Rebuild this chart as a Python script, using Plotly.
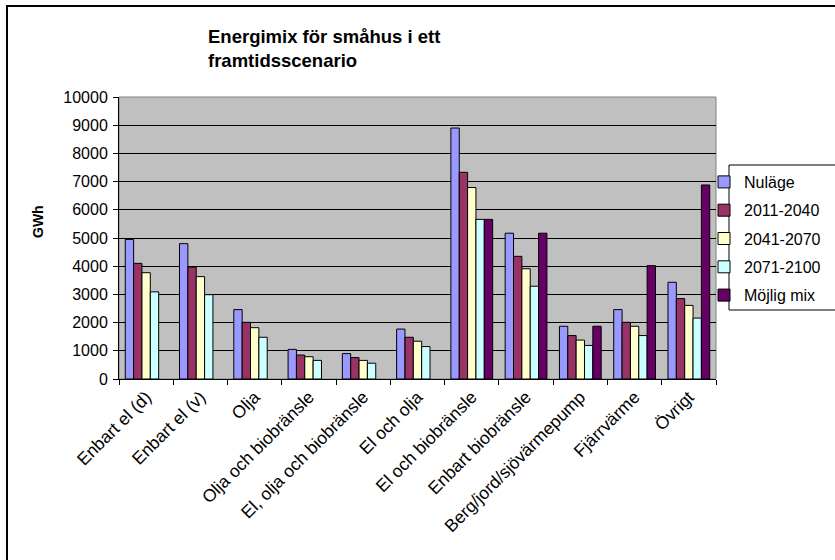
import plotly.graph_objects as go

categories = ["Enbart el (d)", "Enbart el (v)", "Olja", "Olja och biobränsle",
              "El, olja och biobränsle", "El och olja", "El och biobränsle",
              "Enbart biobränsle", "Berg/jord/sjövärmepump", "Fjärrvärme", "Övrigt"]

nulage    = [4950, 4800, 2460, 1050, 900, 1770, 8900, 5170, 1870, 2460, 3430]
s2011     = [4100, 3970, 2010, 850, 760, 1480, 7330, 4350, 1540, 2010, 2850]
s2041     = [3770, 3630, 1820, 790, 660, 1340, 6790, 3910, 1380, 1870, 2610]
s2071     = [3090, 2990, 1480, 660, 560, 1150, 5660, 3290, 1190, 1540, 2160]
mojlig    = [None, None, None, None, None, None, 5660, 5170, 1870, 4020, 6880]

series_names = ["Nuläge", "2011-2040", "2041-2070", "2071-2100", "Möjlig mix"]
series_values = [nulage, s2011, s2041, s2071, mojlig]
series_colors = ["#9999FF", "#993366", "#FFFFCC", "#CCFFFF", "#660066"]

y_ticks = list(range(0, 10001, 1000))
y_tick_text = [str(v) for v in y_ticks]

FONT = "Arial, Liberation Sans, sans-serif"

fig = go.Figure()
for i, (name, vals, col) in enumerate(zip(series_names, series_values, series_colors)):
    fig.add_trace(go.Bar(
        x=categories, y=vals, name=name, legendgroup=f"g{i}",
        marker=dict(color=col, line=dict(color="black", width=1)),
    ))

W, H = 835, 560
L, T = 119, 97
R = W - 716
B = H - 379
pw, ph = W - L - R, H - T - B

def px_x(sx):
    return (sx - L) / pw

def px_y(sy):
    return (H - B - sy) / ph

fig.update_layout(
    width=W, height=H,
    margin=dict(l=L, r=R, t=T, b=B, autoexpand=False),
    paper_bgcolor="white",
    plot_bgcolor="#C0C0C0",
    barmode="group",
    bargap=1.5 / 6.5,
    bargroupgap=0,
    font=dict(family=FONT, size=16, color="black"),
    showlegend=True,
    legend=dict(
        x=px_x(704), y=px_y(165), xanchor="left", yanchor="top",
        bgcolor="rgba(0,0,0,0)", borderwidth=0,
        font=dict(family=FONT, size=16, color="black"),
        tracegroupgap=4.5, itemwidth=30,
    ),
    xaxis=dict(
        type="category", tickson="boundaries", ticks="outside", ticklen=5,
        tickcolor="black", showline=True, linecolor="black", linewidth=1,
        tickangle=-45, showgrid=False, tickfont=dict(family=FONT, size=17.5),
    ),
    yaxis=dict(
        range=[0, 10000], tickvals=y_ticks, ticktext=y_tick_text,
        ticks="outside", ticklen=5, ticklabelstandoff=2,
        tickcolor="black", showline=True, linecolor="black", linewidth=1,
        showgrid=True, gridcolor="black", gridwidth=1, zeroline=False,
        tickfont=dict(family=FONT, size=16),
    ),
    shapes=[
        dict(type="rect", xref="paper", yref="paper", x0=0, x1=1, y0=0, y1=1,
             line=dict(color="#808080", width=1), layer="below"),
        dict(type="rect", xref="paper", yref="paper",
             x0=px_x(7), x1=px_x(900), y0=px_y(600), y1=px_y(6),
             line=dict(color="black", width=2)),
        dict(type="rect", xref="paper", yref="paper",
             x0=px_x(729), x1=px_x(900), y0=px_y(310), y1=px_y(165),
             line=dict(color="black", width=1)),
    ],
    annotations=[
        dict(text="Energimix för småhus i ett<br>framtidsscenario",
             xref="paper", yref="paper", x=px_x(206), y=px_y(24),
             xanchor="left", yanchor="top", align="left", showarrow=False,
             font=dict(family=FONT, size=18.5, color="black", weight="bold")),
        dict(text="<b>GWh</b>", xref="paper", yref="paper",
             x=px_x(38), y=px_y(222), xanchor="center", yanchor="middle",
             textangle=-90, showarrow=False,
             font=dict(family=FONT, size=14, color="black")),
    ],
)

fig.write_html("out.html",
               config={"displayModeBar": False},
               post_script="document.body.style.margin='0px';document.body.style.overflow='hidden';")
